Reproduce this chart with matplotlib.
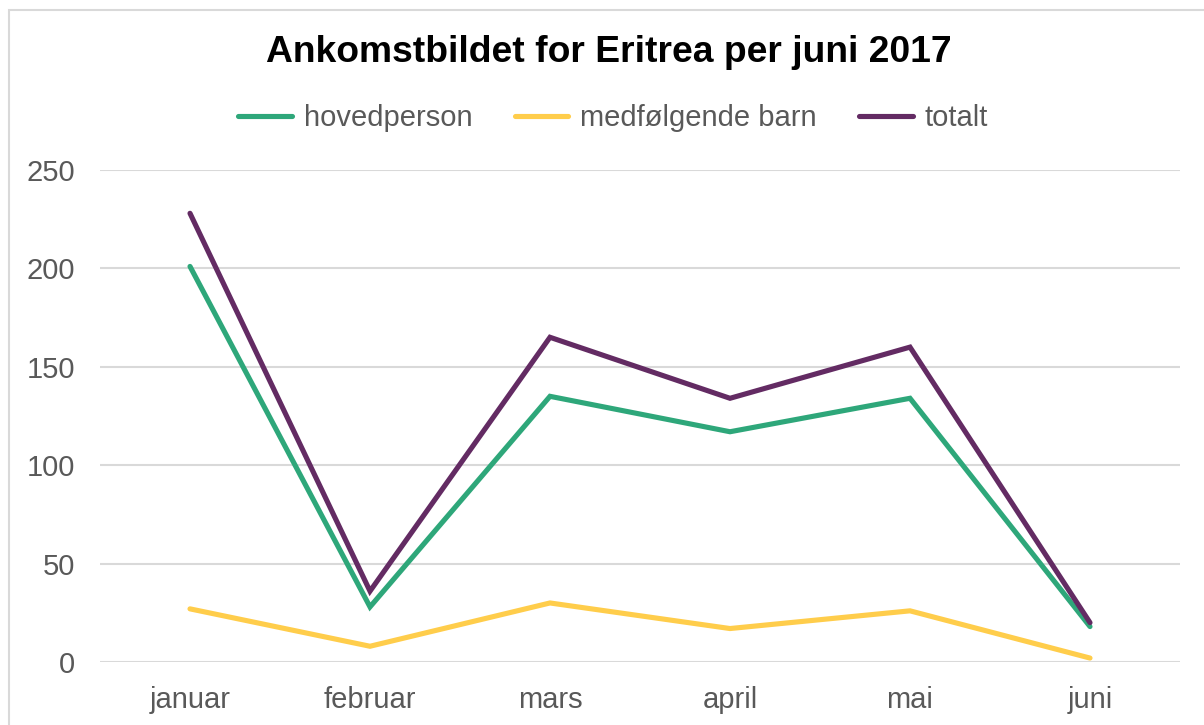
import matplotlib
matplotlib.use("Agg")
import matplotlib.pyplot as plt
from matplotlib.patches import Rectangle

months = ["januar", "februar", "mars", "april", "mai", "juni"]
hovedperson = [201, 28, 135, 117, 134, 18]
medfolgende_barn = [27, 8, 30, 17, 26, 2]
totalt = [228, 36, 165, 134, 160, 20]
series_names = ["hovedperson", "medfølgende barn", "totalt"]
colors = ["#2EA77A", "#FFCD4B", "#632B63"]
y_ticks = [0, 50, 100, 150, 200, 250]
title = "Ankomstbildet for Eritrea per juni 2017"

plt.rcParams["font.family"] = ["Liberation Sans", "DejaVu Sans"]

W, H = 1204, 725
fig = plt.figure(figsize=(W / 100, H / 100), dpi=100)
fig.patch.set_facecolor("white")

# outer border
fig.patches.append(Rectangle((9 / W, -0.1), 1.2, (H - 10) / H + 0.1,
                             transform=fig.transFigure, fill=False,
                             edgecolor="#D9D9D9", linewidth=1.5))

left, right = 100 / W, 1180 / W
bottom, top = 1 - 662 / H, 1 - 170 / H
ax = fig.add_axes([left, bottom, right - left, top - bottom])

x = list(range(len(months)))
for name, vals, c in zip(series_names, [hovedperson, medfolgende_barn, totalt], colors):
    ax.plot(x, vals, color=c, linewidth=3.7, solid_capstyle="round",
            solid_joinstyle="miter", label=name, clip_on=False)

ax.set_xlim(-0.5, len(months) - 0.5)
ax.set_ylim(0, 250)
ax.set_yticks(y_ticks)
ax.set_yticklabels([str(t) for t in y_ticks])
ax.set_xticks(x)
ax.set_xticklabels(months)
ax.grid(axis="y", color="#D9D9D9", linewidth=1.5)
ax.set_axisbelow(True)
for s in ax.spines.values():
    s.set_visible(False)
ax.tick_params(axis="both", length=0, labelsize=21, labelcolor="#595959")
ax.tick_params(axis="y", pad=18)
ax.tick_params(axis="x", pad=17)

fig.text(609 / W, 1 - 52 / H, title, ha="center", va="center",
         fontsize=26.8, fontweight="bold", color="black")

leg = fig.legend(loc="center", bbox_to_anchor=(613 / W, 1 - 118 / H), ncol=3,
                 frameon=False, fontsize=21, handlelength=1.85, handletextpad=0.4,
                 columnspacing=1.45)
for t in leg.get_texts():
    t.set_color("#595959")
for l in leg.get_lines():
    l.set_linewidth(3.7)
    l.set_solid_capstyle("round")

fig.savefig("out.png", dpi=100)
